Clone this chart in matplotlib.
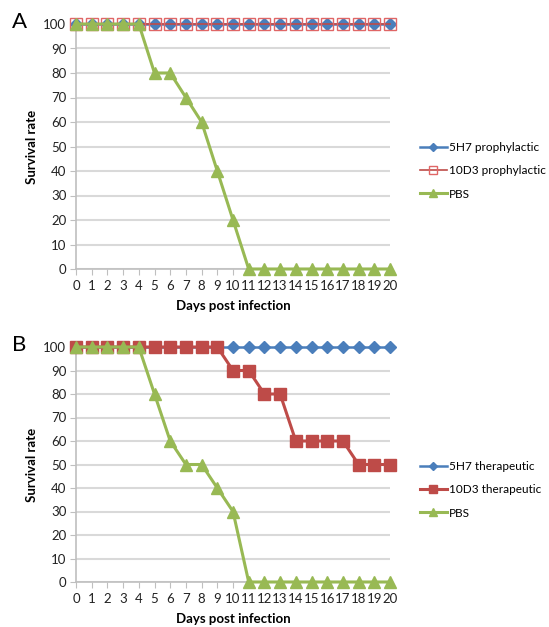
import matplotlib.pyplot as plt

plt.rcParams['font.family'] = ['Lato', 'DejaVu Sans']

days = list(range(21))

# Panel A - prophylactic
a_5h7 = [100, 100, 100, 100, 100, 100, 100, 100, 100, 100, 100,
         100, 100, 100, 100, 100, 100, 100, 100, 100, 100]
a_10d3 = [100, 100, 100, 100, 100, 100, 100, 100, 100, 100, 100,
          100, 100, 100, 100, 100, 100, 100, 100, 100, 100]
a_pbs = [100, 100, 100, 100, 100, 80, 80, 70, 60, 40, 20,
         0, 0, 0, 0, 0, 0, 0, 0, 0, 0]

# Panel B - therapeutic
b_5h7 = [100, 100, 100, 100, 100, 100, 100, 100, 100, 100, 100,
         100, 100, 100, 100, 100, 100, 100, 100, 100, 100]
b_10d3 = [100, 100, 100, 100, 100, 100, 100, 100, 100, 100, 90,
          90, 80, 80, 60, 60, 60, 60, 50, 50, 50]
b_pbs = [100, 100, 100, 100, 100, 80, 60, 50, 50, 40, 30,
         0, 0, 0, 0, 0, 0, 0, 0, 0, 0]

BLUE = '#4A7EBB'
RED = '#BE4B48'
GREEN = '#98B954'
GRID = '#D9D9D9'
AXIS = '#BFBFBF'

W, H = 549, 627
fig = plt.figure(figsize=(W / 100, H / 100), dpi=100)


def style_axes(ax):
    ax.set_xlim(0, 20)
    ax.set_ylim(0, 100)
    ax.set_xticks(days)
    ax.set_yticks(range(0, 101, 10))
    ax.tick_params(axis='both', labelsize=9.5, color=AXIS, length=4,
                   pad=3, labelcolor='#222222')
    ax.tick_params(axis='x', pad=4)
    for s in ['top', 'right']:
        ax.spines[s].set_visible(False)
    for s in ['left', 'bottom']:
        ax.spines[s].set_color(AXIS)
        ax.spines[s].set_linewidth(1.2)
    ax.yaxis.grid(True, color=GRID, linewidth=1.5)
    ax.set_axisbelow(True)
    ax.set_xlabel('Days post infection', fontsize=9.5, fontweight='bold',
                  labelpad=6)
    ax.set_ylabel('Survival rate', fontsize=9.5, fontweight='bold',
                  labelpad=4)


def add_legend(ax, y_top):
    ax.legend(loc='upper left', bbox_to_anchor=(415 / W, 1 - y_top / H),
              bbox_transform=fig.transFigure, frameon=False, fontsize=8.5,
              handlelength=2.3, handletextpad=0.15, labelspacing=1.05,
              markerscale=0.7, borderaxespad=0)


# ---- A ----
axA = fig.add_axes([76 / W, 1 - 269 / H, (390 - 76) / W, (269 - 24) / H])
axA.plot(days, a_5h7, color=BLUE, lw=1.8, marker='D', ms=6,
         label='5H7 prophylactic', clip_on=False, zorder=3)
axA.plot(days, a_10d3, color=RED, lw=1.2, marker='s', ms=8,
         markerfacecolor='none', markeredgecolor='#E06666', mew=1.0,
         label='10D3 prophylactic', clip_on=False, zorder=4)
axA.plot(days, a_pbs, color=GREEN, lw=2.2, marker='^', ms=8,
         label='PBS', clip_on=False, zorder=5)
style_axes(axA)
add_legend(axA, 137)
fig.text(12 / W, 1 - 22 / H, 'A', fontsize=16, va='center', ha='left')

# ---- B ----
axB = fig.add_axes([76 / W, 1 - 582 / H, (390 - 76) / W, (582 - 347) / H])
axB.plot(days, b_5h7, color=BLUE, lw=1.8, marker='D', ms=6,
         label='5H7 therapeutic', clip_on=False, zorder=3)
axB.plot(days, b_10d3, color=RED, lw=2.2, marker='s', ms=8,
         label='10D3 therapeutic', clip_on=False, zorder=4)
axB.plot(days, b_pbs, color=GREEN, lw=2.2, marker='^', ms=8,
         label='PBS', clip_on=False, zorder=5)
style_axes(axB)
add_legend(axB, 456)
fig.text(12 / W, 1 - 345 / H, 'B', fontsize=16, va='center', ha='left')

fig.savefig('out.png', dpi=100)
